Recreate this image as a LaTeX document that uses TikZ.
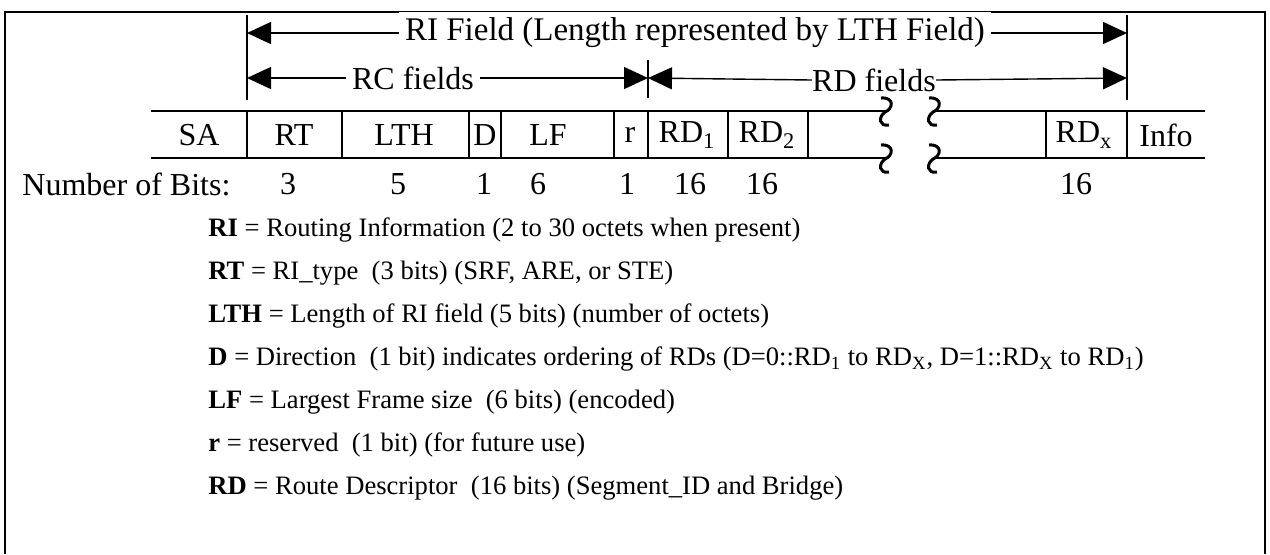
\documentclass[tikz,border=0pt]{standalone}
\usepackage{fontspec}
\setmainfont{Liberation Serif}
\usetikzlibrary{arrows.meta}

\newcommand{\hdfont}{\fontsize{16}{19}\selectfont}
\newcommand{\dffont}{\fontsize{13.3}{16}\selectfont}

\begin{document}
\begin{tikzpicture}[x=0.5pt,y=-0.5pt,
  fieldarrow/.style={-{Triangle[length=12pt,width=11pt]},line width=0.7pt},
  bound/.style={line width=0.8pt},
  rowline/.style={line width=1pt},
  cell/.style={font=\hdfont,inner sep=0pt},
  span/.style={font=\hdfont,fill=white,inner sep=3pt},
  defn/.style={font=\dffont,anchor=west,inner sep=0pt}]
\useasboundingbox (0,0) rectangle (1270,554);
\draw[line width=1pt] (5,554) -- (5,12) -- (1265,12) -- (1265,554);

% span markers above the frame
\coordinate (rileft) at (247,33);
\coordinate (riright) at (1127,33);
\coordinate (rcleft) at (247,78);
\coordinate (rcright) at (648,78);
\coordinate (rdleft) at (648,78);
\coordinate (rdright) at (1127,78);
\draw[bound] (247,15) -- (247,100);
\draw[bound] (648,60) -- (648,98);
\draw[bound] (1127,15) -- (1127,100);

\node[span,font=\fontsize{16.5}{19}\selectfont] (ri) at (695,33) {RI Field (Length represented by LTH Field)};
\node[span] (rc) at (413,78) {RC fields};
\node[span,inner sep=0pt] (rd) at (874,80) {RD fields};
\draw[fieldarrow] (ri.west) -- (rileft);
\draw[fieldarrow] (ri.east) -- (riright);
\draw[fieldarrow] (rc.west) -- (rcleft);
\draw[fieldarrow] (rc.east) -- (rcright);
\draw[fieldarrow] (rd.west) -- (rdleft);
\draw[fieldarrow] (rd.east) -- (rdright);

% the frame row
\draw[rowline] (151,111) -- (885,111);
\draw[rowline] (151,158) -- (885,158);
\draw[rowline] (933,111) -- (1205,111);
\draw[rowline] (933,158) -- (1205,158);
\foreach \x in {247,342,469,501,614,648,728,808,1046,1127}
  \draw[rowline] (\x,111) -- (\x,158);
\foreach \x in {885,933}
  \foreach \y in {111,158}
    \draw[line width=1.5pt] (\x-4,\y-13) .. controls (\x+10,\y-14) and (\x+8,\y-2) .. (\x,\y+1)
      .. controls (\x-7,\y+6) and (\x-6,\y+16) .. (\x+4,\y+14);

\node[cell] (sa) at (199,135) {SA};
\node[cell] (rt) at (294,135) {RT};
\node[cell] (lth) at (404,135) {LTH};
\node[cell] (d) at (485,135) {D};
\node[cell] (lf) at (548,135) {LF};
\node[cell] (r) at (630,135) {r};
\node[cell] (rd1) at (687,135) {RD\textsubscript{1}};
\node[cell] (rd2) at (767,135) {RD\textsubscript{2}};
\node[cell] (rdx) at (1084,135) {RD\textsubscript{x}};
\node[cell] (info) at (1166,135) {Info};

% bit counts
\node[cell,anchor=west] (bits) at (22,184) {Number of Bits:};
\node[cell] (nrt) at (288,184) {3};
\node[cell] (nlth) at (398,184) {5};
\node[cell] (nd) at (484,184) {1};
\node[cell] (nlf) at (538,184) {6};
\node[cell] (nr) at (627,184) {1};
\node[cell] (nrd1) at (690,184) {16};
\node[cell] (nrd2) at (762,184) {16};
\node[cell] (nrdx) at (1076,184) {16};

% legend
\node[defn] (dri) at (208,230) {\textbf{RI} = Routing Information (2 to 30 octets when present)};
\node[defn] (drt) at (208,273) {\textbf{RT} = RI\_type\ \ (3 bits) (SRF, ARE, or STE)};
\node[defn] (dlth) at (208,316) {\textbf{LTH} = Length of RI field (5 bits) (number of octets)};
\node[defn] (dd) at (208,359) {\textbf{D} = Direction\ \ (1 bit) indicates ordering of RDs (D=0::RD\textsubscript{1} to RD\textsubscript{X}, D=1::RD\textsubscript{X} to RD\textsubscript{1})};
\node[defn] (dlf) at (208,402) {\textbf{LF} = Largest Frame size\ \ (6 bits) (encoded)};
\node[defn] (dr) at (208,445) {\textbf{r} = reserved\ \ (1 bit) (for future use)};
\node[defn] (drd) at (208,488) {\textbf{RD} = Route Descriptor\ \ (16 bits) (Segment\_ID and Bridge)};
\end{tikzpicture}
\end{document}
